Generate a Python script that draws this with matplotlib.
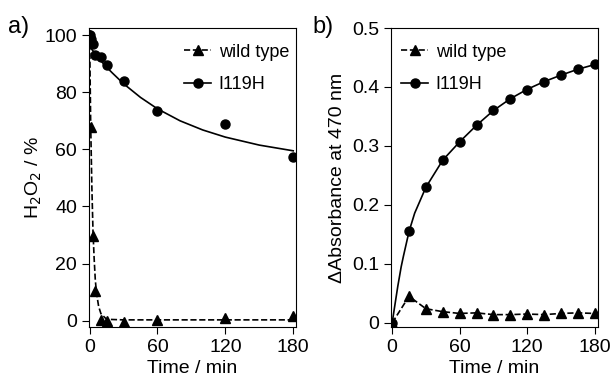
import numpy as np
import matplotlib
matplotlib.use("Agg")
from matplotlib import pyplot as plt

plt.rcParams['font.family'] = ['Liberation Sans', 'DejaVu Sans']

# panel a) H2O2 consumption
t_a = [0, 1, 3, 5, 10, 15, 30, 60, 120, 180]
wt_a = [100, 68, 29.5, 10.5, 0.4, -0.2, -0.6, 0.4, 0.8, 1.7]
t_a_mut = [0, 1, 3, 5, 10, 15, 30, 60, 120, 180]
mut_a = [100, 98.5, 96.8, 93, 92.2, 89.6, 84, 73.6, 68.8, 57.2]

# fitted curves
fit_t_wt = [0, 1, 2, 3, 4, 5, 6, 8, 10, 15, 30, 180]
fit_wt = [100, 68, 47, 31.5, 22, 14.6, 10, 5, 2.5, 0.5, 0.3, 0.3]
fit_t_mut = [0, 5, 10, 15, 20, 30, 45, 60, 80, 100, 120, 150, 180]
fit_mut = [96, 93.5, 91, 88.8, 86.8, 83, 78.2, 74.2, 70, 66.8, 64.3, 61.5, 59.5]

# panel b) absorbance at 470 nm
t_b = [0, 15, 30, 45, 60, 75, 90, 105, 120, 135, 150, 165, 180]
wt_b = [0, 0.045, 0.024, 0.019, 0.016, 0.017, 0.014, 0.014, 0.015, 0.014, 0.016, 0.017, 0.016]
mut_b = [0, 0.156, 0.230, 0.277, 0.307, 0.335, 0.361, 0.380, 0.395, 0.409, 0.420, 0.430, 0.439]
fit_t_b = [0, 2, 5, 8, 10, 15, 20, 30, 45, 60, 75, 90, 105, 120, 135, 150, 165, 180]
fit_b = [0, 0.025, 0.062, 0.095, 0.113, 0.155, 0.186, 0.230, 0.276, 0.307, 0.335, 0.360, 0.380, 0.396, 0.409, 0.420, 0.430, 0.438]

fig = plt.figure(figsize=(6.11, 3.81), dpi=100)
ax1 = fig.add_axes([0.1457, 0.1417, 0.3388, 0.7848])
ax2 = fig.add_axes([0.640, 0.1417, 0.3387, 0.7848])

ms = 6.5
# a)
ax1.plot(fit_t_wt, fit_wt, 'k--', lw=1.2)
ax1.plot(fit_t_mut, fit_mut, 'k-', lw=1.2)
ax1.plot(t_a, wt_a, 'k^', ms=ms, ls='none')
ax1.plot(t_a_mut, mut_a, 'ko', ms=ms, ls='none')
ax1.plot([], [], 'k^--', ms=ms, lw=1.2, label='wild type')
ax1.plot([], [], 'ko-', ms=ms, lw=1.2, label='I119H')
ax1.set_xlim(-0.5, 182.5)
ax1.set_ylim(-2.2, 102.5)
ax1.set_yticks([0, 20, 40, 60, 80, 100])
ax1.set_ylabel('H$_2$O$_2$ / %', fontsize=14, labelpad=0.5)

# b)
ax2.plot(fit_t_b, fit_b, 'k-', lw=1.2)
ax2.plot(t_b, mut_b, 'ko', ms=ms, ls='none')
ax2.plot(t_b, wt_b, 'k^--', ms=ms, lw=1.2)
ax2.plot([], [], 'k^--', ms=ms, lw=1.2, label='wild type')
ax2.plot([], [], 'ko-', ms=ms, lw=1.2, label='I119H')
ax2.set_xlim(-1, 183)
ax2.set_ylim(-0.007, 0.5)
ax2.set_yticks([0, 0.1, 0.2, 0.3, 0.4, 0.5])
ax2.set_yticklabels(['0', '0.1', '0.2', '0.3', '0.4', '0.5'])
ax2.set_ylabel('\u0394Absorbance at 470 nm', fontsize=14)

for ax, lx in ((ax1, 0.46), (ax2, 0.05)):
    ax.set_xticks([0, 60, 120, 180])
    ax.set_xlabel('Time / min', fontsize=14, labelpad=3)
    ax.tick_params(direction='out', length=5, width=0.8, labelsize=14, top=False, right=False)
    for s in ax.spines.values():
        s.set_linewidth(0.8)
    ax.legend(loc='upper left', bbox_to_anchor=(lx, 0.948), frameon=False, fontsize=13,
              handlelength=1.5, handletextpad=0.4, labelspacing=0.85,
              borderaxespad=0, borderpad=0)

fig.text(0.013, 0.93, 'a)', fontsize=17, va='center')
fig.text(0.512, 0.93, 'b)', fontsize=17, va='center')

fig.savefig('out.png', dpi=100)
